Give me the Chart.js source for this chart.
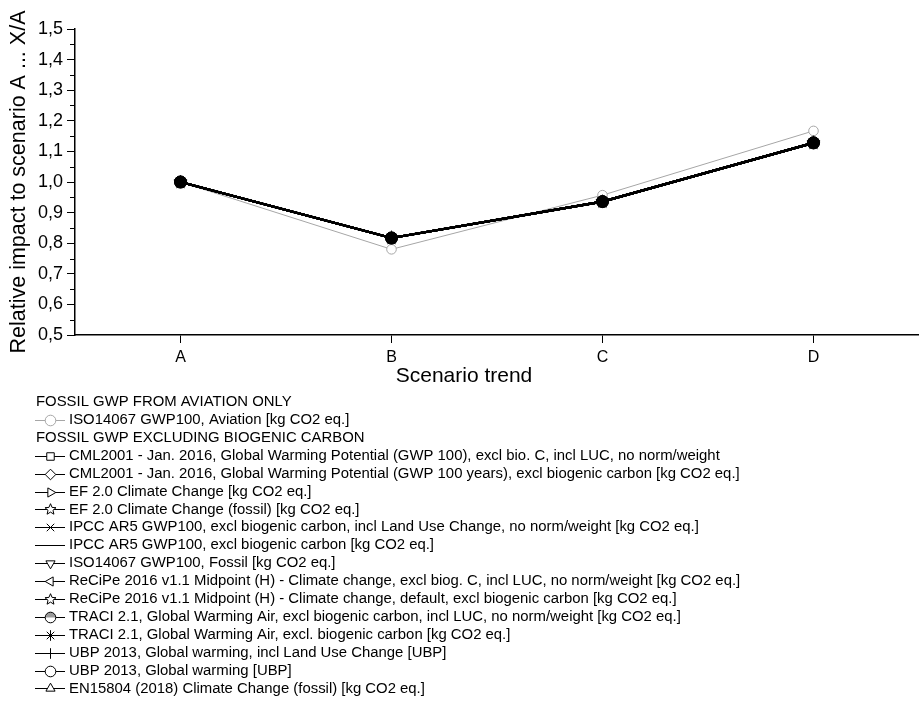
<!DOCTYPE html>
<html>
<head>
<meta charset="utf-8">
<title>Relative impact per scenario</title>
<script src="https://cdn.jsdelivr.net/npm/chart.js@4/dist/chart.umd.min.js"></script>
<style>
    html, body { margin: 0; padding: 0; background: #fff; }
    #wrap { width: 919px; height: 704px; position: relative; }
</style>
</head>
<body>
<div id="wrap"><canvas id="myChart"></canvas></div>
<script>
// scenarios on the x axis
var categories = ['A', 'B', 'C', 'D'];

// fossil GWP from aviation only
var isoAviation = [1.000, 0.780, 0.957, 1.167];

// fossil GWP excluding biogenic carbon (all methods lie on top of each other)
var cmlNoNorm = [1.000, 0.817, 0.936, 1.128];
var cmlYears = [1.000, 0.817, 0.936, 1.128];
var ef20 = [1.000, 0.817, 0.936, 1.128];
var ef20Fossil = [1.000, 0.817, 0.936, 1.128];
var ipccInclLuc = [1.000, 0.817, 0.936, 1.128];
var ipccExcl = [1.000, 0.817, 0.936, 1.128];
var isoFossil = [1.000, 0.817, 0.936, 1.128];
var recipeNoNorm = [1.000, 0.817, 0.936, 1.128];
var recipeDefault = [1.000, 0.817, 0.936, 1.128];
var traciNoNorm = [1.000, 0.817, 0.936, 1.128];
var traciExcl = [1.000, 0.817, 0.936, 1.128];
var ubpInclLuc = [1.000, 0.817, 0.936, 1.128];
var ubp = [1.000, 0.817, 0.936, 1.128];
var en15804 = [1.000, 0.817, 0.936, 1.128];

// y axis tick range
var yMin = 0.5;
var yMax = 1.5;
var yStep = 0.1;

var groupTitles = ['FOSSIL GWP FROM AVIATION ONLY', 'FOSSIL GWP EXCLUDING BIOGENIC CARBON'];

var series = [
    {label: 'ISO14067 GWP100, Aviation [kg CO2 eq.]', data: isoAviation, marker: 'circle', rot: 0, group: 0},
    {label: 'CML2001 - Jan. 2016, Global Warming Potential (GWP 100), excl bio. C, incl LUC, no norm/weight', data: cmlNoNorm, marker: 'rect', rot: 0, group: 1},
    {label: 'CML2001 - Jan. 2016, Global Warming Potential (GWP 100 years), excl biogenic carbon [kg CO2 eq.]', data: cmlYears, marker: 'rectRot', rot: 0, group: 1},
    {label: 'EF 2.0 Climate Change [kg CO2 eq.]', data: ef20, marker: 'triangle', rot: 90, group: 1},
    {label: 'EF 2.0 Climate Change (fossil) [kg CO2 eq.]', data: ef20Fossil, marker: 'star5', rot: 0, group: 1},
    {label: 'IPCC AR5 GWP100, excl biogenic carbon, incl Land Use Change, no norm/weight [kg CO2 eq.]', data: ipccInclLuc, marker: 'crossRot', rot: 0, group: 1},
    {label: 'IPCC AR5 GWP100, excl biogenic carbon [kg CO2 eq.]', data: ipccExcl, marker: 'none', rot: 0, group: 1},
    {label: 'ISO14067 GWP100, Fossil [kg CO2 eq.]', data: isoFossil, marker: 'triangle', rot: 180, group: 1},
    {label: 'ReCiPe 2016 v1.1 Midpoint (H) - Climate change, excl biog. C, incl LUC, no norm/weight [kg CO2 eq.]', data: recipeNoNorm, marker: 'triangle', rot: 270, group: 1},
    {label: 'ReCiPe 2016 v1.1 Midpoint (H) - Climate change, default, excl biogenic carbon [kg CO2 eq.]', data: recipeDefault, marker: 'star5', rot: 0, group: 1},
    {label: 'TRACI 2.1, Global Warming Air, excl biogenic carbon, incl LUC, no norm/weight [kg CO2 eq.]', data: traciNoNorm, marker: 'circleHalf', rot: 0, group: 1},
    {label: 'TRACI 2.1, Global Warming Air, excl. biogenic carbon [kg CO2 eq.]', data: traciExcl, marker: 'star', rot: 0, group: 1},
    {label: 'UBP 2013, Global warming, incl Land Use Change [UBP]', data: ubpInclLuc, marker: 'line', rot: 90, group: 1},
    {label: 'UBP 2013, Global warming [UBP]', data: ubp, marker: 'circle', rot: 0, group: 1},
    {label: 'EN15804 (2018) Climate Change (fossil) [kg CO2 eq.]', data: en15804, marker: 'triangle', rot: 0, group: 1}
];

var FONT = '"Liberation Sans", Arial, Helvetica, sans-serif';
Chart.defaults.font.family = FONT;
Chart.defaults.color = '#000';

function starPath(ctx, x, y, r) {
    ctx.beginPath();
    for (var i = 0; i < 10; i++) {
        var rr = i % 2 === 0 ? r : r * 0.45;
        var a = -Math.PI / 2 + i * Math.PI / 5;
        var px = x + rr * Math.cos(a), py = y + rr * Math.sin(a);
        if (i === 0) ctx.moveTo(px, py); else ctx.lineTo(px, py);
    }
    ctx.closePath();
}

// small image for the five point star used on the plot
var starImg = document.createElement('canvas');
starImg.width = 15;
starImg.height = 15;
(function () {
    var c = starImg.getContext('2d');
    c.fillStyle = '#000';
    starPath(c, 7.5, 7.5, 7.3);
    c.fill();
})();

function plotStyle(m) {
    if (m === 'star5') return starImg;
    if (m === 'circleHalf') return 'circle';
    if (m === 'none') return 'circle';
    return m;
}

var datasets = series.map(function (s) {
    var grey = s.group === 0;
    return {
        label: s.label,
        data: s.data,
        borderColor: grey ? '#a6a6a6' : '#000',
        backgroundColor: grey ? '#fff' : '#000',
        borderWidth: grey ? 1 : 2.2,
        pointStyle: plotStyle(s.marker),
        rotation: s.rot,
        pointRadius: s.marker === 'none' ? 0 : (grey ? 4.8 : 6),
        pointBorderWidth: 1,
        pointBorderColor: grey ? '#a6a6a6' : '#000',
        pointBackgroundColor: grey ? '#fff' : '#000',
        tension: 0,
        order: grey ? 1 : 0
    };
});

function drawMarker(ctx, m, rot, x, y, r, color) {
    ctx.save();
    ctx.strokeStyle = color;
    ctx.fillStyle = '#fff';
    ctx.lineWidth = 1;
    if (m === 'star5') {
        starPath(ctx, x, y, r + 0.5);
        ctx.fill();
        ctx.stroke();
    } else if (m === 'circleHalf') {
        ctx.beginPath();
        ctx.arc(x, y, r, 0, Math.PI * 2);
        ctx.fill();
        ctx.fillStyle = '#999';
        ctx.beginPath();
        ctx.arc(x, y, r, Math.PI, Math.PI * 2);
        ctx.fill();
        ctx.beginPath();
        ctx.arc(x, y, r, 0, Math.PI * 2);
        ctx.stroke();
    } else if (m !== 'none') {
        Chart.helpers.drawPoint(ctx, {pointStyle: m, rotation: rot, radius: r, borderWidth: 1}, x, y);
    }
    ctx.restore();
}

var extras = {
    id: 'extras',
    afterDraw: function (chart) {
        var ctx = chart.ctx;
        var ys = chart.scales.y;
        var left = chart.chartArea.left;
        ctx.save();
        // minor ticks on y axis
        ctx.strokeStyle = '#000';
        ctx.lineWidth = 1;
        for (var v = yMin + yStep / 2; v < yMax; v += yStep) {
            var py = Math.round(ys.getPixelForValue(v)) + 0.5;
            ctx.beginPath();
            ctx.moveTo(left - 5, py);
            ctx.lineTo(left, py);
            ctx.stroke();
        }
        // x axis title
        ctx.fillStyle = '#000';
        ctx.font = '21px ' + FONT;
        ctx.textAlign = 'center';
        ctx.textBaseline = 'middle';
        ctx.fillText('Scenario trend', 464, 376);

        // legend below the chart
        ctx.font = '14.9px ' + FONT;
        ctx.textAlign = 'left';
        var row = 0;
        var y0 = 402, dy = 17.9;
        var lastGroup = -1;
        series.forEach(function (s) {
            if (s.group !== lastGroup) {
                ctx.fillStyle = '#000';
                ctx.fillText(groupTitles[s.group], 36, y0 + row * dy);
                row++;
                lastGroup = s.group;
            }
            var y = Math.round(y0 + row * dy) + 0.5;
            var col = s.group === 0 ? '#a6a6a6' : '#000';
            ctx.strokeStyle = col;
            ctx.lineWidth = 1;
            ctx.beginPath();
            ctx.moveTo(35, y);
            ctx.lineTo(65, y);
            ctx.stroke();
            drawMarker(ctx, s.marker, s.rot, 50.5, y, 5.3, col);
            ctx.fillStyle = '#000';
            ctx.fillText(s.label, 69, y0 + row * dy);
            row++;
        });
        ctx.restore();
    }
};

var ctx = document.getElementById('myChart').getContext('2d');
var myChart = new Chart(ctx, {
    type: 'line',
    data: {
        labels: categories,
        datasets: datasets
    },
    options: {
        responsive: true,
        maintainAspectRatio: false,
        animation: false,
        layout: {
            autoPadding: false,
            padding: {top: 29, right: -3, bottom: 309, left: 0}
        },
        scales: {
            x: {
                offset: true,
                afterFit: function (scale) {
                    scale.height = 60;
                    scale.paddingLeft = 0;
                    scale.paddingRight = 0;
                },
                grid: {display: true, drawOnChartArea: false, tickLength: 8, color: '#000', offset: false},
                border: {display: true, color: '#000', width: 1.5},
                ticks: {font: {size: 16}, padding: 5, color: '#000'}
            },
            y: {
                min: yMin,
                max: yMax,
                afterFit: function (scale) { scale.width = 75; },
                grid: {display: true, drawOnChartArea: false, tickLength: 8, color: '#000'},
                border: {display: true, color: '#000', width: 1.5},
                ticks: {
                    stepSize: yStep,
                    font: {size: 18},
                    padding: 4,
                    color: '#000',
                    callback: function (value) {
                        return value.toFixed(1).replace('.', ',');
                    }
                },
                title: {
                    display: true,
                    text: 'Relative impact to scenario A ... X/A',
                    font: {size: 21.5},
                    padding: {top: 6, bottom: 0},
                    color: '#000'
                }
            }
        },
        plugins: {
            legend: {display: false},
            tooltip: {enabled: false},
            title: {display: false}
        }
    },
    plugins: [extras]
});
</script>
</body>
</html>
